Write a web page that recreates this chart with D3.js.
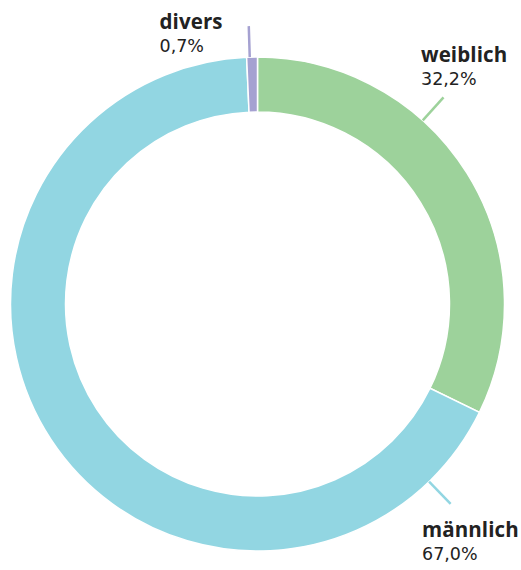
<!DOCTYPE html>
<html>
<head>
<meta charset="utf-8">
<script src="https://cdn.jsdelivr.net/npm/d3@7/dist/d3.min.js"></script>
<style>
  html, body { margin: 0; padding: 0; background: #fff; }
  svg { display: block; }
  text { fill: #222; }
</style>
</head>
<body>
<svg id="chart" width="521" height="570"></svg>
<script>
// Geschlechterverteilung
const categories = ["weiblich", "männlich", "divers"];
const shares = [32.2, 67.0, 0.7];
const valueLabels = ["32,2%", "67,0%", "0,7%"];

const colors = { "weiblich": "#9dd29b", "männlich": "#92d6e2", "divers": "#a5a1d1" };

// Layout of the ring and its callouts
const cx = 257.5, cy = 304;
const outerR = 247, innerR = 192, leaderLen = 31;
const callouts = {
  "weiblich": { angle: 42,   x: 421, y: 62 },
  "männlich": { angle: 136,  x: 422, y: 537 },
  "divers":   { angle: -1.8, x: 159.5, y: 29 }
};

const svg = d3.select("#chart");
const g = svg.append("g").attr("transform", `translate(${cx},${cy})`);

const data = categories.map((c, i) => ({ name: c, value: shares[i], label: valueLabels[i] }));

const pie = d3.pie().value(d => d.value).sort(null);
const arc = d3.arc().innerRadius(innerR).outerRadius(outerR);

g.selectAll("path.slice")
  .data(pie(data))
  .join("path")
  .attr("class", "slice")
  .attr("d", arc)
  .attr("fill", d => colors[d.data.name])
  .attr("stroke", "#fff")
  .attr("stroke-width", 1.5);

// Leader lines, radial from the ring outward
const rad = a => a * Math.PI / 180;
g.selectAll("line.leader")
  .data(data)
  .join("line")
  .attr("class", "leader")
  .attr("x1", d => outerR * Math.sin(rad(callouts[d.name].angle)))
  .attr("y1", d => -outerR * Math.cos(rad(callouts[d.name].angle)))
  .attr("x2", d => (outerR + leaderLen) * Math.sin(rad(callouts[d.name].angle)))
  .attr("y2", d => -(outerR + leaderLen) * Math.cos(rad(callouts[d.name].angle)))
  .attr("stroke", d => colors[d.name])
  .attr("stroke-width", 2.5);

// Category names and percentages
const labels = svg.selectAll("g.label")
  .data(data)
  .join("g")
  .attr("class", "label")
  .attr("transform", d => `translate(${callouts[d.name].x},${callouts[d.name].y})`);

labels.append("text")
  .text(d => d.name)
  .attr("font-family", "'Open Sans', sans-serif")
  .attr("font-size", 20.5)
  .attr("font-weight", 700)
  .attr("letter-spacing", 0.1);

labels.append("text")
  .text(d => d.label)
  .attr("y", 23)
  .attr("font-family", "'DejaVu Sans', sans-serif")
  .attr("font-size", 17.5)
  .attr("font-weight", 400)
  .attr("fill", "#333");
</script>
</body>
</html>
